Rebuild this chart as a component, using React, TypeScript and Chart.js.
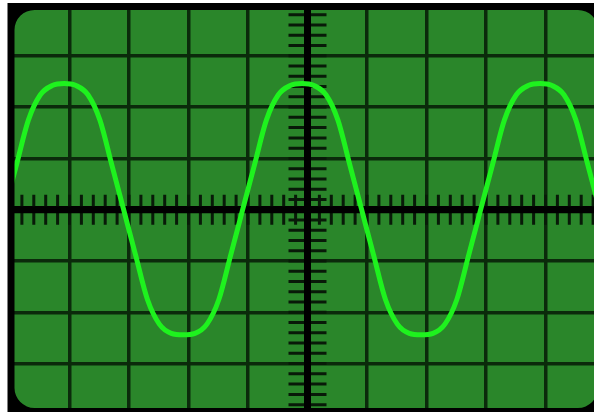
import React, { useEffect, useRef } from "react";
import { Chart, registerables } from "chart.js";

Chart.register(...registerables);

// Time axis in divisions (centre = 0), voltage in divisions (centre = 0)
const timeDiv = [
  -5.09, -4.89, -4.69, -4.49, -4.29, -4.09, -3.89, -3.69, -3.49, -3.29,
  -3.09, -2.89, -2.69, -2.49, -2.29, -2.09, -1.89, -1.69, -1.49, -1.29,
  -1.09, -0.89, -0.69, -0.49, -0.29, -0.09, 0.11, 0.31, 0.51, 0.71,
  0.91, 1.11, 1.31, 1.51, 1.71, 1.91, 2.11, 2.31, 2.51, 2.71,
  2.91, 3.11, 3.31, 3.51, 3.71, 3.91, 4.11, 4.31, 4.51, 4.71,
  4.91, 5.11,
];
const voltDiv = [
  0, 0.88, 1.75, 2.24, 2.42, 2.46, 2.42, 2.24, 1.75, 0.88,
  0, -0.88, -1.75, -2.23, -2.41, -2.44, -2.41, -2.23, -1.75, -0.88,
  0, 0.88, 1.75, 2.24, 2.42, 2.46, 2.42, 2.24, 1.75, 0.88,
  0, -0.88, -1.75, -2.23, -2.41, -2.44, -2.41, -2.23, -1.75, -0.88,
  0, 0.88, 1.75, 2.24, 2.42, 2.46, 2.42, 2.24, 1.75, 0.88,
  0, -0.88,
];
const xDivisions = { min: -5, max: 5 };
const yDivisions = { min: -4, max: 4 };
const minorPerDiv = 5;

const SCREEN = "#2a862a";
const GRID = "#0b2a0b";
const TRACE = "#1ef21e";

const scopePlugin = {
  id: "scope",
  beforeDraw(chart: any) {
    const { ctx, chartArea: ca } = chart;
    ctx.save();
    ctx.fillStyle = SCREEN;
    ctx.fillRect(ca.left, ca.top, ca.right - ca.left, ca.bottom - ca.top);
    ctx.restore();
  },
  beforeDatasetsDraw(chart: any) {
    const { ctx } = chart;
    const xs = chart.scales.x;
    const ys = chart.scales.y;
    const x0 = xs.getPixelForValue(0);
    const y0 = ys.getPixelForValue(0);
    ctx.save();
    ctx.strokeStyle = "#081a08";
    ctx.lineWidth = 3;
    ctx.beginPath();
    for (let k = xDivisions.min * minorPerDiv; k <= xDivisions.max * minorPerDiv; k++) {
      const px = xs.getPixelForValue(k / minorPerDiv);
      ctx.moveTo(px, y0 - 15);
      ctx.lineTo(px, y0 + 15);
    }
    for (let k = yDivisions.min * minorPerDiv; k <= yDivisions.max * minorPerDiv; k++) {
      const py = ys.getPixelForValue(k / minorPerDiv);
      ctx.moveTo(x0 - 19, py);
      ctx.lineTo(x0 + 19, py);
    }
    ctx.stroke();
    // centre axes on top of minor ticks
    ctx.strokeStyle = "#000";
    ctx.lineWidth = 7;
    ctx.beginPath();
    ctx.moveTo(chart.chartArea.left, y0);
    ctx.lineTo(chart.chartArea.right, y0);
    ctx.moveTo(x0, chart.chartArea.top);
    ctx.lineTo(x0, chart.chartArea.bottom);
    ctx.stroke();
    ctx.restore();
  },
  afterDraw(chart: any) {
    const { ctx, chartArea: ca } = chart;
    const oL = ca.left - 2.5, oT = ca.top - 1.5, oR = ca.right + 3, oB = ca.bottom + 2;
    const iL = ca.left + 4.5, iT = ca.top + 5.5, iR = ca.right - 7, iB = ca.bottom - 7;
    ctx.save();
    ctx.fillStyle = "#000";
    ctx.beginPath();
    ctx.rect(oL, oT, oR - oL, oB - oT);
    ctx.roundRect(iL, iT, iR - iL, iB - iT, 20);
    ctx.fill("evenodd");
    ctx.restore();
  },
};

export default function App() {
  const ref = useRef<HTMLCanvasElement>(null);
  useEffect(() => {
    const canvas = ref.current;
    if (!canvas) return;
    const gridColor = (c: any) => (c.tick && Math.abs(c.tick.value) < 1e-9 ? "#000" : GRID);
    const gridWidth = (c: any) => (c.tick && Math.abs(c.tick.value) < 1e-9 ? 7 : 3.5);
    const chart = new Chart(canvas, {
      type: "line",
      data: {
        datasets: [
          {
            data: timeDiv.map((x, i) => ({ x, y: voltDiv[i] })),
            borderColor: TRACE,
            borderWidth: 5,
            pointRadius: 0,
            cubicInterpolationMode: "monotone",
            fill: false,
          },
        ],
      },
      options: {
        responsive: false,
        devicePixelRatio: 1,
        animation: false,
        layout: { padding: { left: 10, top: 4.5, right: 15, bottom: 15.1 } },
        plugins: { legend: { display: false }, tooltip: { enabled: false } },
        scales: {
          x: {
            type: "linear",
            min: xDivisions.min,
            max: xDivisions.max,
            ticks: { display: false, stepSize: 1 },
            grid: { drawTicks: false, color: gridColor, lineWidth: gridWidth },
            border: { display: false },
          },
          y: {
            type: "linear",
            min: yDivisions.min,
            max: yDivisions.max,
            ticks: { display: false, stepSize: 1 },
            grid: { drawTicks: false, color: gridColor, lineWidth: gridWidth },
            border: { display: false },
          },
        },
      },
      plugins: [scopePlugin],
    });
    return () => chart.destroy();
  }, []);
  return (
    <div
      style={{
        position: "fixed",
        left: 0,
        top: 0,
        width: 594,
        height: 412,
        overflow: "hidden",
        background: "#fff",
      }}
    >
      <canvas ref={ref} width={620} height={430} style={{ display: "block", width: 620, height: 430 }} />
    </div>
  );
}
